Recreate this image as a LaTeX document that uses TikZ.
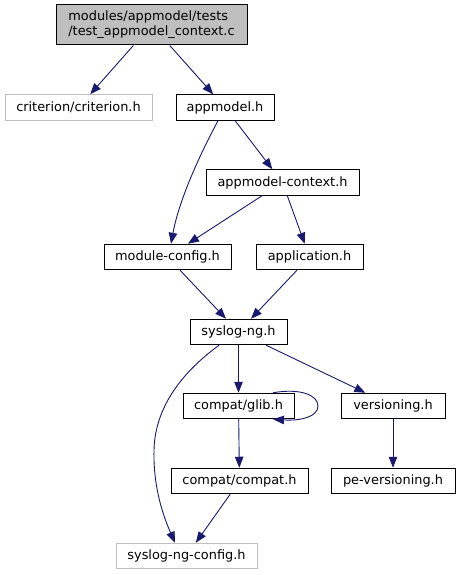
\documentclass[tikz,border=0pt]{standalone}
\usepackage{fontspec}
\setmainfont{DejaVu Sans}
\usetikzlibrary{arrows.meta}
\definecolor{edgec}{HTML}{191970}
\definecolor{grayb}{HTML}{BFBFBF}
\begin{document}
\begin{tikzpicture}[x=1pt,y=-1pt,
  box/.style={draw=black,line width=1pt,rectangle,inner sep=0pt,minimum height=25.5pt,font=\fontsize{12.9}{15}\selectfont},
  gbox/.style={box,draw=grayb},
  edge/.style={draw=edgec,line width=0.9pt,-{Triangle[length=11pt,width=8.5pt]}}]
\useasboundingbox[fill=white] (0,0) rectangle (460,575);
\node[box,fill=grayb,minimum width=191pt,minimum height=40pt,align=left] (root) at (151.5,25) {modules/appmodel/tests\\/test\_appmodel\_context.c};
\node[gbox,minimum width=147pt] (crit) at (78.5,107.5) {criterion/criterion.h};
\node[box,minimum width=98pt] (app) at (225,107.5) {appmodel.h};
\node[box,minimum width=153pt] (ctx) at (282.5,182.5) {appmodel-context.h};
\node[box,minimum width=127pt] (mod) at (167.5,257) {module-config.h};
\node[box,minimum width=107pt] (appl) at (309.5,257) {application.h};
\node[box,minimum width=97pt] (sys) at (238.5,332) {syslog-ng.h};
\node[box,minimum width=111pt] (glib) at (238.5,406) {compat/glib.h};
\node[box,minimum width=104pt] (ver) at (393,406) {versioning.h};
\node[box,minimum width=137pt] (compat) at (239.5,481) {compat/compat.h};
\node[box,minimum width=124pt] (pever) at (393,481) {pe-versioning.h};
\node[gbox,minimum width=141pt] (cfg) at (186.5,556) {syslog-ng-config.h};

\draw[edge] (root) -- (crit);
\draw[edge] (root) -- (app);
\draw[edge] ([xshift=-7pt]app.south) .. controls (205,145) and (180,195) .. ([xshift=3.5pt]mod.north);
\draw[edge] (app) -- (ctx);
\draw[edge] (ctx) -- (mod);
\draw[edge] (ctx) -- (appl);
\draw[edge] (mod) -- (sys);
\draw[edge] (appl) -- (sys);
\draw[edge] ([xshift=-19.5pt]sys.south) .. controls (185,370) and (155,405) .. (154,450) .. controls (153,490) and (165,520) .. ([xshift=-11.5pt]cfg.north);
\draw[edge] (sys) -- (glib);
\draw[edge] (sys) -- (ver);
\draw[edge] ([xshift=34.5pt]glib.north) .. controls (300,388) and (318,395) .. (318,406) .. controls (318,417) and (300,421) .. ([xshift=34.5pt]glib.south);
\draw[edge] (glib) -- (compat);
\draw[edge] (ver) -- (pever);
\draw[edge] (compat) -- (cfg);
\end{tikzpicture}
\end{document}
